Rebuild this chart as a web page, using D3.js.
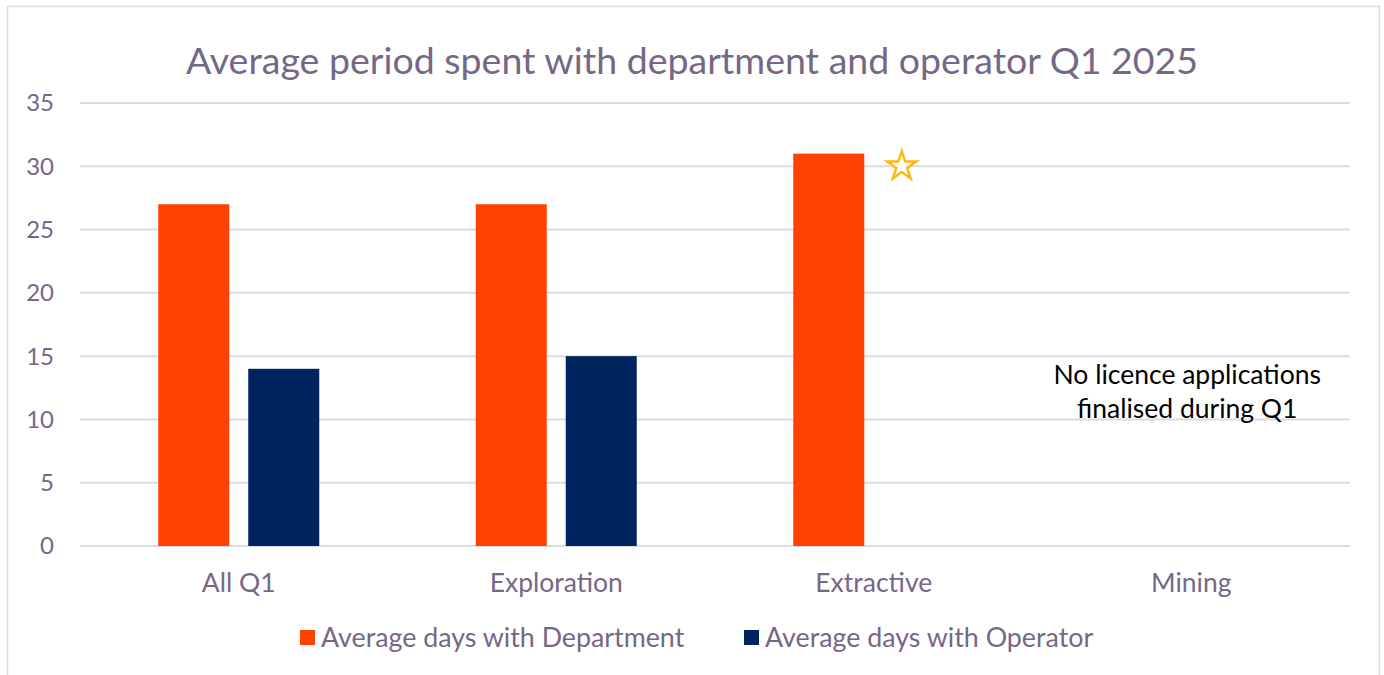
<!DOCTYPE html>
<html>
<head>
<meta charset="utf-8">
<script src="https://cdn.jsdelivr.net/npm/d3@7"></script>
<style>
  body { margin: 0; background: #fff; }
  svg { display: block; font-family: Lato, "Open Sans", sans-serif; }
</style>
</head>
<body>
<svg id="chart" width="1384" height="675"></svg>
<script>
// chart data
var categories = ["All Q1", "Exploration", "Extractive", "Mining"];
var seriesNames = ["Average days with Department", "Average days with Operator"];
var deptDays = [27, 27, 31, null];
var operatorDays = [14, 15, null, null];
var yTicks = [0, 5, 10, 15, 20, 25, 30, 35];

var colors = ["#fc4100", "#00245d"];
var textColor = "#756886";

var svg = d3.select("#chart");

// outer frame
svg.append("rect")
    .attr("x", 7.5).attr("y", 6.5)
    .attr("width", 1372).attr("height", 680)
    .attr("fill", "none")
    .attr("stroke", "#dddde3")
    .attr("stroke-width", 1.5);

var x = d3.scaleBand()
    .domain(categories)
    .range([80, 1350]);

var y = d3.scaleLinear()
    .domain([0, 35])
    .range([546, 103]);

var inner = d3.scaleBand()
    .domain(seriesNames)
    .range([0, 161])
    .paddingInner(0.211);

// gridlines
svg.append("g").selectAll("line")
    .data(yTicks)
    .enter().append("line")
    .attr("x1", 80).attr("x2", 1350)
    .attr("y1", function (d) { return y(d); })
    .attr("y2", function (d) { return y(d); })
    .attr("stroke", "#dcdbe3")
    .attr("stroke-width", 2);

// y tick labels
svg.append("g").selectAll("text")
    .data(yTicks)
    .enter().append("text")
    .attr("x", 54)
    .attr("y", function (d) { return y(d); })
    .attr("dy", "0.35em")
    .attr("text-anchor", "end")
    .attr("fill", textColor)
    .attr("font-size", 24)
    .text(function (d) { return d; });

// bars
var series = [deptDays, operatorDays];
series.forEach(function (vals, s) {
    svg.append("g").selectAll("rect")
        .data(categories.map(function (c, i) { return {cat: c, v: vals[i]}; })
            .filter(function (d) { return d.v != null; }))
        .enter().append("rect")
        .attr("x", function (d) {
            return x(d.cat) + x.bandwidth() / 2 - 80.5 + inner(seriesNames[s]);
        })
        .attr("width", inner.bandwidth())
        .attr("y", function (d) { return y(d.v); })
        .attr("height", function (d) { return y(0) - y(d.v); })
        .attr("fill", colors[s]);
});

// category labels
svg.append("g").selectAll("text")
    .data(categories)
    .enter().append("text")
    .attr("x", function (d) { return x(d) + x.bandwidth() / 2; })
    .attr("y", 591.5)
    .attr("text-anchor", "middle")
    .attr("fill", textColor)
    .attr("font-size", 26.5)
    .text(function (d) { return d; });

// title
svg.append("text")
    .attr("x", 692).attr("y", 74)
    .attr("text-anchor", "middle")
    .attr("fill", textColor)
    .attr("font-size", 37.5)
    .text("Average period spent with department and operator Q1 2025");

// star marker next to Extractive bar
var starPt = {cat: "Extractive", v: 30.0};
svg.append("path")
    .attr("d", d3.symbol().type(d3.symbolStar).size(260)())
    .attr("transform", "translate(" + (x(starPt.cat) + x.bandwidth() / 2 + 28) + "," + y(starPt.v) + ")")
    .attr("fill", "#fff")
    .attr("stroke", "#fdb913")
    .attr("stroke-width", 2.5)
    .attr("stroke-linejoin", "miter");

// note for Mining
var noteX = x("Mining") + x.bandwidth() / 2 - 4;
var note = svg.append("text")
    .attr("x", noteX)
    .attr("y", 384)
    .attr("text-anchor", "middle")
    .attr("fill", "#000")
    .attr("font-size", 26.5);
note.append("tspan").attr("x", noteX).text("No licence applications");
note.append("tspan").attr("x", noteX).attr("dy", 34).text("finalised during Q1");

// legend
var legend = svg.append("g");
var legendX = [300, 744];
seriesNames.forEach(function (n, i) {
    legend.append("rect")
        .attr("x", legendX[i]).attr("y", 630)
        .attr("width", 15).attr("height", 15)
        .attr("fill", colors[i]);
    legend.append("text")
        .attr("x", legendX[i] + 21).attr("y", 647)
        .attr("fill", textColor)
        .attr("font-size", 26.8)
        .text(n);
});
</script>
</body>
</html>
